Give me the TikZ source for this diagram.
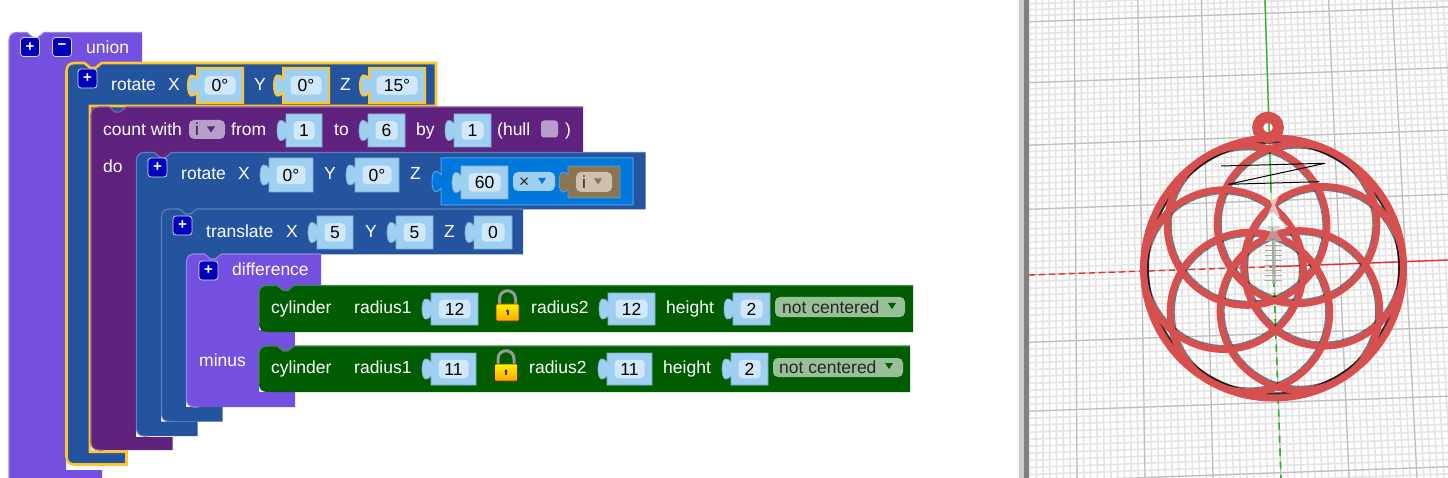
\documentclass[tikz,border=0pt]{standalone}
\usepackage{fontspec}
\setmainfont{Liberation Sans}
\usetikzlibrary{calc}
% block colours
\definecolor{unionc}{HTML}{7350DF}
\definecolor{unionclt}{HTML}{9A80E8}
\definecolor{rotc}{HTML}{25549E}
\definecolor{rotclt}{HTML}{5C80B8}
\definecolor{countc}{HTML}{5F237F}
\definecolor{countclt}{HTML}{8A5BA5}
\definecolor{cylc}{HTML}{005C00}
\definecolor{cylclt}{HTML}{3F8A45}
\definecolor{mathc}{HTML}{0078DB}
\definecolor{mathclt}{HTML}{4DA3E8}
\definecolor{varc}{HTML}{8B7450}
\definecolor{fieldc}{HTML}{9FD0F2}
\definecolor{fieldin}{HTML}{D1E8FA}
\definecolor{fieldedge}{HTML}{7FA8CF}
\definecolor{selc}{HTML}{FFC52E}
\definecolor{ringc}{HTML}{D84F4F}
\definecolor{dropcount}{HTML}{B89FCB}
\definecolor{dropvar}{HTML}{CFC1AE}
\definecolor{dropcyl}{HTML}{99BF99}
\definecolor{axisred}{HTML}{F02828}
\definecolor{axisgreen}{HTML}{20BB20}
\tikzset{
  lbl/.style={font=\fontsize{17.5}{18}\selectfont,text=white,inner sep=0pt,anchor=mid west,yshift=-3.5pt},
  valtext/.style={font=\fontsize{17.5}{18}\selectfont,text=black,fill=fieldin,rounded corners=4pt,inner sep=0pt},
  droptext/.style={font=\fontsize{17.5}{18}\selectfont,text=black!85,inner sep=0pt,anchor=mid west,yshift=-3.5pt},
  dropbox/.style={rounded corners=5pt,inner sep=0pt},
  btn/.style={font=\fontsize{15}{15}\selectfont\bfseries,text=white,fill=blue!75!black,draw=black!15,line width=0.8pt,
    rounded corners=3pt,minimum size=19pt,inner sep=0pt},
  fieldshape/.style={fill=fieldc,draw=fieldedge,line width=0.7pt},
  selfield/.style={fill=fieldc,draw=selc,line width=2pt},
  blockedge/.style={},
  minorgrid/.style={draw=black!10,line width=1.6pt},
  majorgrid/.style={draw=black!25,line width=1.2pt},
  ringline/.style={draw=ringc,line width=6.5pt},
}
% field with a tab on its left side
\newcommand{\tabbox}[5][fieldshape]{%
  \pgfmathsetmacro\yc{(#4+#5)/2}
  \filldraw[#1] (#2,#4) -- (#3,#4) -- (#3,#5) -- (#2,#5) -- (#2,\yc+7)
    .. controls (#2-2,\yc+9) and (#2-4,\yc+11) .. (#2-6,\yc+10)
    .. controls (#2-10,\yc+8) and (#2-10,\yc-8) .. (#2-6,\yc-10)
    .. controls (#2-4,\yc-11) and (#2-2,\yc-9) .. (#2,\yc-7) -- cycle;
}
\newcommand{\valfield}[7][fieldshape]{%
  \tabbox[#1]{#3}{#4}{#5}{#6}
  \pgfmathsetmacro\xc{(#3+#4)/2}
  \pgfmathsetmacro\xw{#4-#3-15}
  \node[valtext,minimum width=\xw pt,minimum height=18.5pt] (#2) at (\xc,\yc) {#7};
}
% C shaped block: colour, x, y, right, bar bottom, arm, foot top, foot right, bottom
\newcommand{\cblock}[9]{%
  \fill[#1] (#6,#5-1) rectangle (#6+40,#5+7);
  \fill[#1] (#2,#3+8) .. controls (#2,#3+3) and (#2+3,#3) .. (#2+8,#3)
    -- (#2+18,#3) -- (#2+24,#3+5) -- (#2+29,#3+5) -- (#2+35,#3) -- (#4,#3) -- (#4,#5) -- (#6,#5) -- (#6,#7)
    -- (#8,#7) -- (#8,#9) -- (#2+8,#9) .. controls (#2+3,#9) and (#2,#9-3) .. (#2,#9-8) -- cycle;
  \draw[#1lt,line width=1.2pt] (#2+12,#9) -- (#2+8,#9) .. controls (#2+3,#9) and (#2,#9-3) .. (#2,#9-8)
    -- (#2,#3+8) .. controls (#2,#3+3) and (#2+3,#3) .. (#2+8,#3)
    -- (#2+18,#3) -- (#2+24,#3+5) -- (#2+29,#3+5) -- (#2+35,#3) -- (#4,#3);
  \path[blockedge] (#2,#3+8) .. controls (#2,#3+3) and (#2+3,#3) .. (#2+8,#3)
    -- (#2+18,#3) -- (#2+24,#3+5) -- (#2+29,#3+5) -- (#2+35,#3) -- (#4,#3) -- (#4,#5) -- (#6,#5) -- (#6,#7)
    -- (#8,#7) -- (#8,#9) -- (#2+8,#9) .. controls (#2+3,#9) and (#2,#9-3) .. (#2,#9-8) -- cycle;
}
% straight block: colour, x, y, right, bottom
\newcommand{\flatblock}[5]{%
  \fill[#1] (#2,#3+8) .. controls (#2,#3+3) and (#2+3,#3) .. (#2+8,#3)
    -- (#2+18,#3) -- (#2+24,#3+5) -- (#2+29,#3+5) -- (#2+35,#3) -- (#4,#3) -- (#4,#5)
    -- (#2+8,#5) .. controls (#2+3,#5) and (#2,#5-3) .. (#2,#5-8) -- cycle;
  \draw[#1lt,line width=1.2pt] (#2,#5-8) -- (#2,#3+8) .. controls (#2,#3+3) and (#2+3,#3) .. (#2+8,#3)
    -- (#2+18,#3) -- (#2+24,#3+5) -- (#2+29,#3+5) -- (#2+35,#3) -- (#4,#3);
}
% dropdown: name, left, right, top, bottom, fill, text x, text
\newcommand{\dropfield}[8]{%
  \pgfmathsetmacro\yc{(#4+#5)/2}
  \pgfmathsetmacro\xc{(#2+#3)/2}
  \pgfmathsetmacro\xw{#3-#2}
  \pgfmathsetmacro\xh{#5-#4}
  \node[dropbox,fill=#6,minimum width=\xw pt,minimum height=\xh pt] (#1box) at (\xc,\yc) {};
  \node[droptext] (#1) at (#7,\yc) {#8};
}
\newcommand{\droparrow}[3]{\fill[#1] (#2-4,#3-3) -- (#2+4,#3-3) -- (#2,#3+3) -- cycle;}
\newcommand{\lockicon}[2]{%
  \draw[black!40,line width=3pt] (#1-8,#2-3) -- (#1-8,#2-8) .. controls (#1-8,#2-19) and (#1+8,#2-19) .. (#1+8,#2-8) -- (#1+8,#2-3);
  \shade[top color=yellow!90!orange,bottom color=orange!70!yellow,draw=black!60!orange,line width=0.7pt,rounded corners=1pt]
    (#1-11.5,#2-3) rectangle (#1+11.5,#2+14);
  \fill[black!80] (#1-1,#2+4) rectangle (#1+1,#2+8);
  \fill[black!80] (#1,#2+4) circle (1.6pt);
}
\begin{document}
\begin{tikzpicture}[x=1pt,y=-1pt]
  \clip (0,0) rectangle (1448,478);
  \fill[white] (0,0) rectangle (1448,478);
  % blocks, outer first
  \cblock{unionc}{9}{32.5}{142}{64}{66}{470}{102}{486}
  \begin{scope}[blockedge/.style={draw=selc,line width=2.6pt}]
    \cblock{rotc}{66.5}{63}{436}{106}{90}{451.7}{126.5}{464.5}
  \end{scope}
  \cblock{countc}{91}{107}{583}{152}{136}{437}{172.5}{450}
  \cblock{rotc}{136.5}{152.5}{645.5}{209.5}{161}{421.5}{197.5}{436}
  \cblock{rotc}{161.5}{209}{523}{254.5}{186}{407}{222.5}{421.5}
  \cblock{unionc}{186.5}{254}{321}{285}{259}{392}{295}{407}
  \fill[unionc] (259,330) rectangle (295,353);
  \flatblock{cylc}{259}{285.5}{913}{332}
  \flatblock{cylc}{259}{346}{910}{392}
  % union row
  \node[btn] (unionplus) at (30,47) {+};
  \node[btn] (unionminus) at (62,47) {−};
  \node[lbl] (union) at (86,47) {union};
  % first rotate row
  \node[btn] (rotplus) at (87.5,78.5) {+};
  \node[lbl] (rotlbl) at (111,84) {rotate};
  \node[lbl] (rotx) at (168,84) {X};
  \node[lbl] (roty) at (254,84) {Y};
  \node[lbl] (rotz) at (340,84) {Z};
  \valfield[selfield]{rotxval}{197}{243}{68}{103}{0°}
  \valfield[selfield]{rotyval}{283}{329}{68}{103}{0°}
  \valfield[selfield]{rotzval}{369}{425}{68}{103}{15°}
  % count row
  \node[lbl] (count) at (103,129) {count with};
  \dropfield{ivar}{189}{225}{120}{139}{dropcount}{195}{i}
  \droparrow{countc}{211}{129.5}
  \node[lbl] (from) at (231,129) {from};
  \node[lbl] (tolbl) at (334,129) {to};
  \node[lbl] (bylbl) at (416,129) {by};
  \node[lbl] (hull) at (497,129) {(hull};
  \node[fill=dropcount,rounded corners=3pt,minimum size=17pt,inner sep=0pt] (hullbox) at (549.5,129) {};
  \node[lbl] (hullend) at (565,129) {)};
  \valfield{fromval}{286}{322}{114}{147}{1}
  \valfield{toval}{368}{405}{114}{147}{6}
  \valfield{byval}{454}{491}{114}{147}{1}
  \node[lbl] (dolbl) at (103,166) {do};
  % second rotate row
  \node[btn] (rotbplus) at (157.5,167.5) {+};
  \node[lbl] (rotb) at (181,173) {rotate};
  \node[lbl] (rotbx) at (238,173) {X};
  \node[lbl] (rotby) at (324,173) {Y};
  \node[lbl] (rotbz) at (410,173) {Z};
  \valfield{rotbxval}{269}{313}{158}{192}{0°}
  \valfield{rotbyval}{355}{399}{158}{192}{0°}
  \tabbox[fill=mathc,draw=mathclt,line width=1pt]{441}{633}{158}{205}
  \valfield{sixty}{461}{508}{166}{199}{60}
  \dropfield{timesop}{513}{555}{172}{191}{fieldc}{519}{×}
  \droparrow{mathc}{542}{181}
  \tabbox[fill=varc,draw=mathclt,line width=0.8pt]{568}{620}{166}{198}
  \dropfield{ivarb}{576}{612}{172}{192}{dropvar}{582}{i}
  \droparrow{varc}{598}{181.5}
  % translate row
  \node[btn] (transplus) at (182.5,225.5) {+};
  \node[lbl] (trans) at (206,231) {translate};
  \node[lbl] (transx) at (286,231) {X};
  \node[lbl] (transy) at (365,231) {Y};
  \node[lbl] (transz) at (444,231) {Z};
  \valfield{transxval}{317}{353}{216}{249}{5}
  \valfield{transyval}{396}{433}{216}{249}{5}
  \valfield{transzval}{474}{512}{216}{249}{0}
  % difference
  \node[btn] (diffplus) at (208.5,270.5) {+};
  \node[lbl] (diff) at (232,269) {difference};
  \node[lbl] (minus) at (199,360) {minus};
  % cylinders
  \node[lbl] (cyla) at (271,307) {cylinder};
  \node[lbl] (radaa) at (354,307) {radius1};
  \valfield{radaaval}{431}{478}{293}{325}{12}
  \lockicon{507.5}{307}
  \node[lbl] (radab) at (531,307) {radius2};
  \valfield{radabval}{608}{655}{293}{325}{12}
  \node[lbl] (heighta) at (666,307) {height};
  \valfield{heightaval}{733}{770}{293}{325}{2}
  \dropfield{centera}{775}{905}{297}{317}{dropcyl}{782}{not centered}
  \droparrow{cylc}{892}{306}
  \node[lbl] (cylb) at (271,367) {cylinder};
  \node[lbl] (radba) at (354,367) {radius1};
  \valfield{radbaval}{431}{476}{353}{385}{11}
  \lockicon{506}{367}
  \node[lbl] (radbb) at (529,367) {radius2};
  \valfield{radbbval}{607}{652}{353}{385}{11}
  \node[lbl] (heightb) at (663,367) {height};
  \valfield{heightbval}{731}{768}{353}{385}{2}
  \dropfield{centerb}{773}{903}{358}{377}{dropcyl}{779}{not centered}
  \droparrow{cylc}{889}{366}
  % viewer panel
  \fill[black!20] (1019,0) rectangle (1024,478);
  \fill[black!50] (1024,0) rectangle (1029,478);
  \begin{scope}
    \clip (1029,0) rectangle (1448,478);
    \foreach \k in {-40,...,30} {
      \pgfmathsetmacro\xt{1265+6.36*\k}
      \pgfmathsetmacro\xb{1281+6.8*\k}
      \draw[minorgrid] (\xt,0) -- (\xb,478);
    }
    \foreach \j in {-46,...,32} {
      \pgfmathsetmacro\yl{275+6.65*\j+0.008*\j*\j}
      \draw[minorgrid] (1029,\yl) -- (1448,\yl-15);
    }
    \foreach \k in {-4,...,3} {
      \pgfmathsetmacro\xt{1265+63.6*\k}
      \pgfmathsetmacro\xb{1281+68*\k}
      \draw[majorgrid] (\xt,0) -- (\xb,478);
    }
    \foreach \j in {-4,...,3} {
      \pgfmathsetmacro\yl{275+66.5*\j+0.8*\j*\j}
      \draw[majorgrid] (1029,\yl) -- (1448,\yl-15);
    }
    % axes
    \coordinate (gridc) at (1273.3,266.8);
    \coordinate (redl) at (1029,275);
    \coordinate (redr) at (1448,260);
    \coordinate (greent) at (1265,0);
    \coordinate (greenb) at (1281,478);
    \draw[axisred,line width=1.3pt,dash pattern=on 6pt off 4pt] (redl) -- (gridc);
    \draw[axisred,line width=1.3pt] (gridc) -- (redr);
    \draw[axisgreen,line width=1.3pt] (greent) -- (gridc);
    \draw[axisgreen,line width=1.6pt,dash pattern=on 7pt off 6pt] (gridc) -- (greenb);
    % pendant
    \coordinate (penc) at (1273.5,268);
    \foreach \a in {0,60,...,300}
      \draw[black,opacity=0.5,line width=6.5pt] ($(penc)+(\a-1.9:50)$) circle[radius=78.5pt];
    \draw[black,line width=7pt,opacity=0.8] (penc) circle[radius=128pt];
    \foreach \a in {0,60,...,300}
      \draw[ringline] ($(penc)+(\a-1.9:50)$) circle[radius=80pt];
    \draw[ringline,line width=7pt] (penc) circle[radius=130pt];
    \draw[ringc,line width=11pt] (1268,127.5) circle[radius=10.3pt];
    \draw[black,line width=1pt] (1221,166) -- (1325,163.3) -- (1228.3,184.3) -- (1319.3,181.7);
    % ghost part
    \fill[white,opacity=0.65] (1267,193) -- (1280,193) -- (1275,205) -- (1280,217) -- (1267,217) -- (1272,205) -- cycle;
    \fill[white,opacity=0.65] (1260,227) -- (1273,212) -- (1288,227) -- cycle;
    \fill[black!25,opacity=0.6] (1267,226) -- (1280,226) -- (1277,233) -- (1282,241) -- (1266,241) -- (1270,233) -- cycle;
    \fill[black!30,opacity=0.7] (1271.5,240) rectangle (1276,284);
    \foreach \t in {0,...,8}
      \draw[black!35,line width=1pt] (1265,241+5*\t) -- (1282,241+5*\t);
  \end{scope}
\end{tikzpicture}
\end{document}
